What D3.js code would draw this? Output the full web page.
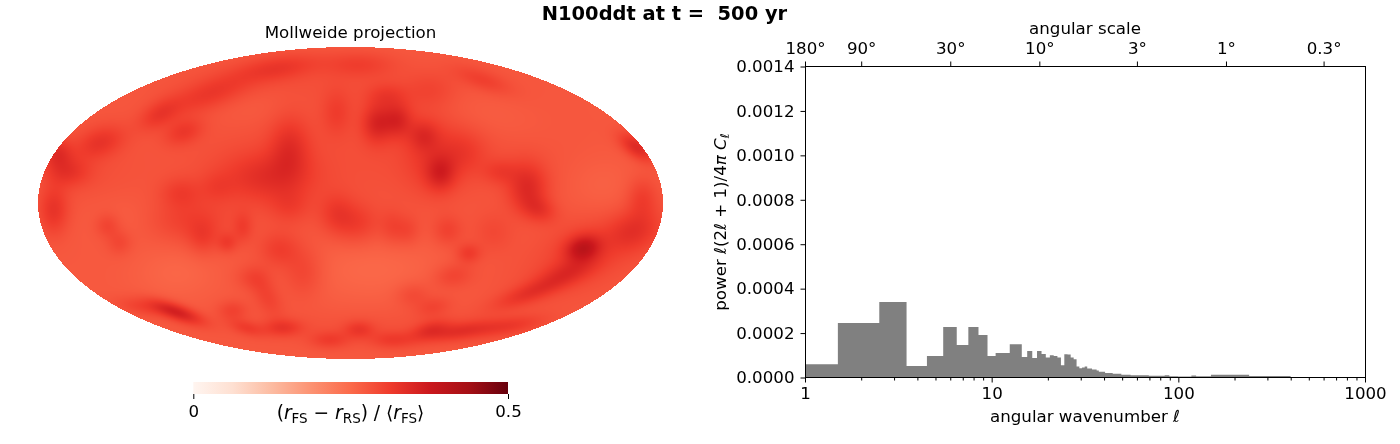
<!DOCTYPE html>
<html><head><meta charset="utf-8">
<script src="https://cdn.jsdelivr.net/npm/d3@7"></script>
<style>
html,body{margin:0;padding:0;background:#fff;width:1400px;height:444px;overflow:hidden}
#wrap{position:relative;width:1400px;height:444px}
canvas,svg{position:absolute;left:0;top:0}
text{font-family:"DejaVu Sans";fill:#000}
</style></head><body><div id="wrap"><canvas id="map" width="1400" height="444"></canvas><svg id="svg" width="1400" height="444"></svg></div>
<script>
const titleText = "N100ddt at t =  500 yr";
// power per multipole, l = 1..37
const powerByEll = [0.00006,0.000245,0.00034,0.000052,0.000097,0.000227,0.000146,0.000227,0.000191,0.000097,
0.00011,0.00011,0.00015,0.00015,0.000092,0.000119,0.000088,0.000119,0.000106,0.00009,
0.0001,0.000097,0.00009,0.000055,0.000105,0.000103,0.00009,0.000082,0.00005,0.000042,
0.000045,0.00005,0.00004,0.00004,0.000036,0.000036,0.000032];
// higher multipoles read as bands
const bandStart = [38,41,45,50,56,70,85,90,100,118,125,150,240,400];
const bandEnd   = [41,45,50,56,70,85,90,100,118,125,150,240,400,1000];
const bandPower = [0.000026,0.00002,0.000017,0.000012,0.00001,0.000008,0.00001,0.000006,0.000005,0.000009,0.000006,0.000012,0.000007,0];
const yTicks = [0,0.0002,0.0004,0.0006,0.0008,0.001,0.0012,0.0014];
const xTicks = [1,10,100,1000];
const topScales = [180,90,30,10,3,1,0.3];
const topLabels = ["180°","90°","30°","10°","3°","1°","0.3°"];
const redsStops = ["#fff5f0","#fee0d2","#fcbba1","#fc9272","#fb6a4a","#ef3b2c","#cb181d","#a50f15","#67000d"];
const mapBase = 0.273;
// map features: lon, lat, spread along, spread across, tilt deg, depth
const mapSpots = [
[-41,78,16,5,8,.04],[-81,63,18,6,20,.04],[-110,51,9,5,30,.04],[-96,41,8,5,20,.04],[-144,35,10,6,20,.045],
[-169,29,6,6,0,.055],[-163,18,9,6,0,.045],[-35,32,8,12,0,.05],[-8,52,6,9,0,.03],[-48,15,18,10,0,.05],
[-98,6,8,6,0,.03],[-77,9,7,6,0,.02],[5,80,14,5,0,.03],[21,62,8,5,0,.03],[15,46,6,8,0,.065],[27,48,6,7,0,.065],
[42,39,6,6,0,.04],[52,17,6,7,0,.06],[65,29,9,9,0,.03],[46,28,11,15,0,.03],[86,18,7,5,0,.03],[102,9,8,10,0,.065],
[76,71,12,4,-20,.03],[46,65,10,7,0,.02],[165,32,8,4,-35,.07],[168,3,6,8,0,.035],[-171,-4,6,10,0,.05],
[-140,-13,5,5,0,.03],[-133,-23,5,5,0,.025],[-94,-10,16,9,0,.03],[-85,-20,6,7,0,.03],[-71,-23,4,4,0,.035],
[-62,-14,4,6,0,.03],[-41,-27,8,7,0,.035],[-27,-40,8,10,0,.03],[-56,-43,7,5,0,.025],[-48,-54,9,5,-60,.03],
[-100,-63,11,3.2,-20,.085],[-120,-60,11,3.5,-10,.03],[-68,-62,6,4,0,.03],[-60,-72,7,3,-15,.035],[-39,-72,8,3.5,0,.045],
[-12,-79,8,3.5,0,.035],[-8,-6,7,8,0,.035],[-35,-2,8,7,0,.025],[134,-26,7,5,15,.09],[134,-26,15,11,20,.02],
[109,-4,7,5,-20,.04],[4,-12,9,8,0,.035],[24,-14,5,7,0,.025],[33,-16,5,6,0,.025],[56,-16,6,6,0,.03],[68,-29,5,4,0,.04],
[59,-42,8,5,10,.03],[82,-17,8,8,0,.02],[36,-53,7,5,0,.025],[48,-60,7,4,15,.025],[5,-73,6,3.5,0,.04],[24,-79,9,3.5,0,.035],
[46,-73,8,3.5,15,.045],[63,-74,14,3.5,10,.05],[103,-52,15,4,20,.045],[125,-40,13,5,20,.045],[163,-16,11,8,20,.05],[92,-71,14,3.5,10,.035],
[12,-38,30,14,0,-.02],[-100,-40,18,12,0,-.018],[145,10,14,12,0,-.012],[80,50,22,10,-15,-.012],[-130,-8,18,10,0,-.01],[-55,55,18,8,10,-.008],
[-50,20,48,28,0,.012],[55,30,45,22,0,.014],[130,-35,38,16,20,.016],[-150,20,20,20,0,.01],[20,-72,60,8,0,.01],[-20,70,70,10,0,.01]
];

const svg = d3.select("#svg");
const reds = d3.scaleLinear().domain(redsStops.map((d,i)=>i/(redsStops.length-1)*0.5)).range(redsStops).clamp(true);

// --- map
const lonX = d3.scaleLinear().domain([-180,180]).range([38,663]);
const latY = d3.scaleLinear().domain([-90,90]).range([359,47]);
const prep = mapSpots.map(([lo,la,a,b,t,d])=>({lo,la,a,b,c:Math.cos(t*Math.PI/180),s:Math.sin(t*Math.PI/180),d}));
function field(lo,la){let v=mapBase;for(const p of prep){const dx=lo-p.lo,dy=la-p.la;const u=(dx*p.c+dy*p.s)/p.a,w=(-dx*p.s+dy*p.c)/p.b;v+=p.d*Math.exp(-.5*(u*u+w*w));}return v;}
const ctx=document.getElementById("map").getContext("2d");
const img=ctx.createImageData(1400,444);
for(let py=47;py<359;py++)for(let px=38;px<663;px++){
 const lo=lonX.invert(px+.5),la=latY.invert(py+.5);
 if((lo/180)**2+(la/90)**2>1)continue;
 const c=d3.rgb(reds(field(lo,la))),i=(py*1400+px)*4;
 img.data[i]=c.r;img.data[i+1]=c.g;img.data[i+2]=c.b;img.data[i+3]=255;
}
ctx.putImageData(img,0,0);

svg.append("text").attr("x",664.5).attr("y",19.5).attr("text-anchor","middle").attr("font-weight","bold").attr("font-size",19.44).style("white-space","pre").text(titleText);
svg.append("text").attr("x",350.5).attr("y",38).attr("text-anchor","middle").attr("font-size",16.67).text("Mollweide projection");

// --- colorbar
const cbX=d3.scaleLinear().domain([0,0.5]).range([193.3,508]);
const grad=svg.append("defs").append("linearGradient").attr("id","cbg");
grad.selectAll("stop").data(redsStops).join("stop").attr("offset",(d,i)=>i/(redsStops.length-1)).attr("stop-color",d=>d);
svg.append("rect").attr("x",cbX(0)).attr("width",cbX(.5)-cbX(0)).attr("y",382).attr("height",12).attr("fill","url(#cbg)");
const cbAx=svg.append("g").attr("transform","translate(0,394)").call(d3.axisBottom(cbX).tickValues([0,.5]).tickFormat(d=>d===0?"0":"0.5").tickSize(5).tickSizeOuter(0));
cbAx.select(".domain").remove();
cbAx.selectAll("text").attr("font-size",16.67).attr("font-family","DejaVu Sans").attr("fill","#000").attr("dy",null).attr("y",23);
cbAx.selectAll("line").attr("stroke","#000");
const cbl=svg.append("text").attr("x",350.5).attr("y",419).attr("text-anchor","middle").attr("font-size",18.6);
const sub=(t,s)=>{t.append("tspan").attr("font-style","oblique").text("r");t.append("tspan").attr("font-size",13.5).attr("dy",4).text(s);};
cbl.append("tspan").text("(");sub(cbl,"FS");cbl.append("tspan").attr("dy",-4).text(" − ");sub(cbl,"RS");cbl.append("tspan").attr("dy",-4).text(") / ⟨");sub(cbl,"FS");cbl.append("tspan").attr("dy",-4).text("⟩");

// --- power spectrum
const x=d3.scaleLog().domain([1,1000]).range([805,1365]);
const y=d3.scaleLinear().domain([0,0.0014]).range([377.5,66.5]);
const steps=[...powerByEll.map((p,i)=>({a:i===0?1:i+.5,p})),...bandStart.map((s,i)=>({a:s-.5,p:bandPower[i]})),{a:1000,p:0}];
const area=d3.area().curve(d3.curveStepAfter).x(d=>x(d.a)).y0(y(0)).y1(d=>y(d.p));
svg.append("path").datum(steps).attr("d",area).attr("fill","#808080");
svg.append("rect").attr("x",805.5).attr("y",66.5).attr("width",560).attr("height",311).attr("fill","none").attr("stroke","#000").attr("stroke-width",1);

const minor=[];[1,10,100].forEach(b=>d3.range(2,10).forEach(k=>minor.push(b*k)));
const style=g=>{g.select(".domain").remove();g.selectAll("line").attr("stroke","#000");g.selectAll("text").attr("font-size",16.67).attr("font-family","DejaVu Sans").attr("fill","#000");};
svg.append("g").attr("transform","translate(0,377.5)").call(d3.axisBottom(x).tickValues(minor).tickFormat("").tickSize(3)).call(style);
const bx=svg.append("g").attr("transform","translate(0,377.5)").call(d3.axisBottom(x).tickValues(xTicks).tickFormat(d3.format("d")).tickSize(5)).call(style);
bx.selectAll("text").attr("y",10).attr("dy","0.71em");
const ly=svg.append("g").attr("transform","translate(805.5,0)").call(d3.axisLeft(y).tickValues(yTicks).tickFormat(d3.format(".4f")).tickSize(5)).call(style);
ly.selectAll("text").attr("x",-11);
const tx=svg.append("g").attr("transform","translate(0,66.5)").call(d3.axisTop(x).tickValues(topScales.map(d=>180/d)).tickFormat((d,i)=>topLabels[i]).tickSize(5)).call(style);
tx.selectAll("text").attr("y",-13);
svg.append("text").attr("x",1085).attr("y",34).attr("text-anchor","middle").attr("font-size",16.67).text("angular scale");
const xl=svg.append("text").attr("x",1085).attr("y",422).attr("text-anchor","middle").attr("font-size",16.67);
xl.append("tspan").text("angular wavenumber ");xl.append("tspan").attr("font-style","oblique").text("ℓ");
const yl=svg.append("text").attr("transform","translate(726,222) rotate(-90)").attr("text-anchor","middle").attr("font-size",16.67);
yl.append("tspan").text("power ");yl.append("tspan").attr("font-style","oblique").text("ℓ");yl.append("tspan").text("(2");yl.append("tspan").attr("font-style","oblique").text("ℓ");yl.append("tspan").text(" + 1)/4");yl.append("tspan").attr("font-style","oblique").text("π C");yl.append("tspan").attr("font-style","oblique").attr("font-size",12).attr("dy",3).text("ℓ");
</script></body></html>
